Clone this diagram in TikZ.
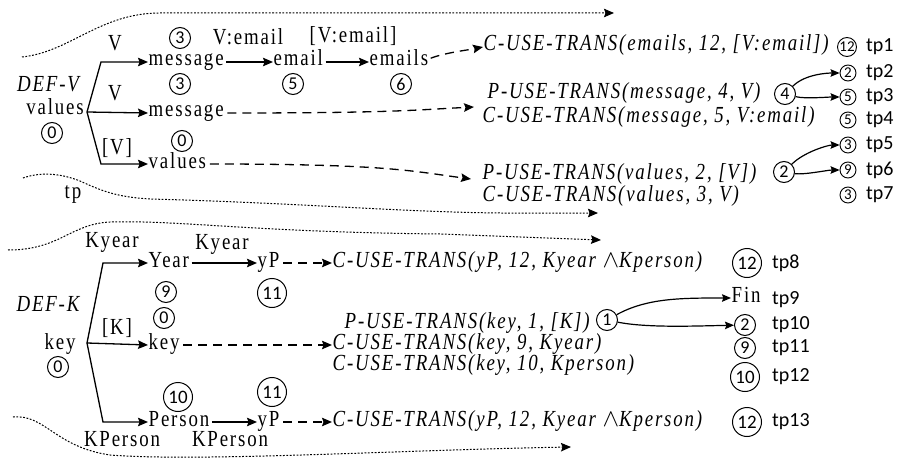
\documentclass[tikz,border=0pt]{standalone}
\usepackage{fontspec}
\setmainfont{Liberation Serif}[LetterSpace=8, FakeStretch=0.82]
\newfontfamily\calfont{Carlito}
\usetikzlibrary{arrows.meta}
\begin{document}
\begin{tikzpicture}[x=1pt,y=-1pt,
  txt/.style={inner sep=0.5pt, text height=12pt, text depth=4pt, font=\fontsize{23}{26}\selectfont},
  itx/.style={txt, font=\fontsize{23}{26}\selectfont\itshape},
  tpl/.style={inner sep=0, anchor=west, font=\calfont\fontsize{20}{22}\selectfont},
  circS/.style={circle, draw, line width=0.9pt, inner sep=0, minimum size=16pt, font=\calfont\fontsize{15}{15}\selectfont},
  circSS/.style={circS, minimum size=19pt, font=\calfont\fontsize{15}{15}\selectfont},
  circM/.style={circle, draw, line width=1pt, inner sep=0, minimum size=21pt, font=\calfont\fontsize{18}{18}\selectfont},
  circL/.style={circle, draw, line width=1pt, inner sep=0, minimum size=29pt, font=\calfont\fontsize{19}{19}\selectfont},
  mytip/.tip={Stealth[length=10pt,width=8.5pt,inset=1.5pt]},
  arr/.style={line width=1.3pt, -mytip},
  carr/.style={line width=1.2pt, -{Stealth[length=9pt,width=7.5pt,inset=1.3pt]}},
  dsh/.style={arr, dash pattern=on 9pt off 6pt},
  dotline/.style={line width=1pt, dash pattern=on 1.8pt off 1.6pt, -mytip}
]
\useasboundingbox (0,0) rectangle (914,460);

% ---------------- top section ----------------
\coordinate (da0) at (22,57);
\coordinate (da1) at (614,13);
\draw[dotline] (da0) .. controls (70,52) and (100,13) .. (160,13) -- (da1);

\node[itx] (defv) at (48,88) {DEF-V};
\node[txt] (valsA) at (55,110) {values};
\node[circM] (z0a) at (52,133) {0};
\coordinate (bv) at (87,112);
\coordinate (bvu) at (101,62);
\coordinate (bvd) at (101,164);
\node[txt,anchor=west] (msgA) at (148,62) {message};
\node[txt,anchor=west] (msgB) at (148,113) {message};
\node[txt,anchor=west] (valsB) at (148,164) {values};
\draw[arr] (bv) -- (bvu) -- (msgA.west);
\draw[arr] (bv) -- (msgB.west);
\draw[arr] (bv) -- (bvd) -- (valsB.west);
\node[txt] (lv1) at (115,47) {V};
\node[txt] (lv2) at (115,97) {V};
\node[txt] (lv3) at (117,150) {[V]};
\node[circM] (t3a) at (180,38) {3};
\node[circM] (t3b) at (180,84) {3};
\node[circM] (t0b) at (182,141) {0};

\node[txt,anchor=west] (emailA) at (273,62) {email};
\node[txt,anchor=west] (emailsA) at (369,62) {emails};
\draw[arr, shorten <=2pt] (msgA.east) -- (emailA.west);
\draw[arr, shorten <=2pt] (emailA.east) -- (emailsA.west);
\node[txt] (lve) at (248,41) {V:email};
\node[txt] (lvee) at (353,39) {[V:email]};
\node[circM] (t5) at (293,84) {5};
\node[circM] (t6) at (401,84) {6};

\node[itx,anchor=west] (cu1) at (483,47) {C-USE-TRANS(emails, 12, [V:email])};
\node[itx,anchor=west] (pu1) at (487,95) {P-USE-TRANS(message, 4, V)};
\node[itx,anchor=west] (cu2) at (482,118) {C-USE-TRANS(message, 5, V:email)};
\node[itx,anchor=west] (pu2) at (482,175) {P-USE-TRANS(values, 2, [V])};
\node[itx,anchor=west] (cu3) at (482,197) {C-USE-TRANS(values, 3, V)};

\draw[dsh, shorten <=2pt] ([yshift=3pt]emailsA.east) .. controls +(15,-6) and +(-15,3) .. (cu1.west);
\coordinate (mB) at (474,107);
\draw[dsh, shorten <=3pt] (msgB.east) .. controls +(170,0) and +(-60,3) .. (mB);
\coordinate (vB) at (471,179);
\draw[dsh, shorten <=3pt] (valsB.east) .. controls +(180,0) and +(-60,-8) .. (vB);

\coordinate (db0) at (23,178);
\coordinate (db1) at (598,213);
\draw[dotline] (db0) .. controls (40,172) and (60,173) .. (80,181) .. controls (100,190) and (115,197) .. (150,199) .. controls (300,203) and (400,212) .. (500,213) -- (db1);
\node[txt] (tplab) at (73,194) {tp};

\node[circM] (c4) at (785,94) {4};
\node[circM] (c2) at (784,172) {2};

\node[circSS] (r1) at (847,47) {12};
\node[circS] (r2) at (848,73) {2};
\node[circS] (r3) at (848,97) {5};
\node[circS] (r4) at (848,120) {5};
\node[circS] (r5) at (848,145) {3};
\node[circS] (r6) at (848,170) {9};
\node[circS] (r7) at (848,195) {3};
\node[tpl] (tp1) at (866,47) {tp1};
\node[tpl] (tp2) at (866,73) {tp2};
\node[tpl] (tp3) at (866,97) {tp3};
\node[tpl] (tp4) at (866,120) {tp4};
\node[tpl] (tp5) at (866,145) {tp5};
\node[tpl] (tp6) at (866,170) {tp6};
\node[tpl] (tp7) at (866,195) {tp7};

\draw[carr] (c4) .. controls +(20,-20) and +(-20,0) .. (r2);
\draw[carr] (c4) .. controls +(20,5) and +(-20,0) .. (r3);
\draw[carr] (c2) .. controls +(20,-20) and +(-20,0) .. (r5);
\draw[carr] (c2) .. controls +(20,3) and +(-20,0) .. (r6);

% ---------------- bottom section ----------------
\coordinate (dc0) at (8,250);
\coordinate (dc1) at (601,240);
\draw[dotline] (dc0) .. controls (60,250) and (70,224) .. (110,222) .. controls (180,220) and (250,232) .. (440,234) -- (dc1);

\coordinate (dd0) at (13,417);
\coordinate (dd1) at (571,447);
\draw[dotline] (dd0) .. controls (45,414) and (55,447) .. (110,455) .. controls (200,462) and (400,450) .. (dd1);

\node[itx] (defk) at (48,307) {DEF-K};
\node[txt] (keyA) at (60,345) {key};
\node[circM] (k0a) at (58,367) {0};
\coordinate (bk) at (87,343);
\coordinate (bku) at (103,263);
\coordinate (bkd) at (103,422);
\node[txt,anchor=west] (year) at (148,263) {Year};
\node[txt,anchor=west] (keyB) at (148,345) {key};
\node[txt,anchor=west] (person) at (148,422) {Person};
\draw[arr] (bk) -- (bku) -- (year.west);
\draw[arr] (bk) -- (keyB.west);
\draw[arr] (bk) -- (bkd) -- (person.west);
\node[txt] (lk1) at (112,243) {Kyear};
\node[txt] (lk2) at (117,330) {[K]};
\node[txt] (lk3) at (122,442) {KPerson};
\node[circM] (k9) at (166,292) {9};
\node[circM] (k0b) at (164,318) {0};
\node[circL] (k10) at (178,397) {10};

\node[txt,anchor=west] (ypA) at (257,263) {yP};
\node[txt,anchor=west] (ypB) at (257,422) {yP};
\draw[arr, shorten <=2pt] (year.east) -- (ypA.west);
\draw[arr, shorten <=2pt] (person.east) -- (ypB.west);
\node[txt] (lk4) at (222,245) {Kyear};
\node[txt] (lk5) at (230,442) {KPerson};
\node[circL] (k11a) at (272,293) {11};
\node[circL] (k11b) at (272,392) {11};

\node[itx,anchor=west] (cy1) at (332,263) {C-USE-TRANS(yP, 12, Kyear $\wedge$Kperson)};
\node[itx,anchor=west] (pk1) at (344,324) {P-USE-TRANS(key, 1, [K])};
\node[itx,anchor=west] (ck1) at (332,345) {C-USE-TRANS(key, 9, Kyear)};
\node[itx,anchor=west] (ck2) at (332,366) {C-USE-TRANS(key, 10, Kperson)};
\node[itx,anchor=west] (cy2) at (332,422) {C-USE-TRANS(yP, 12, Kyear $\wedge$Kperson)};

\draw[dsh, shorten <=3pt] (ypA.east) -- (cy1.west);
\draw[dsh, shorten <=3pt] (keyB.east) -- (ck1.west);
\draw[dsh, shorten <=3pt] (ypB.east) -- (cy2.west);

\node[circM] (c1) at (607,320) {1};
\node[txt,anchor=west] (fin) at (731,298) {Fin};
\node[circL] (s12a) at (747,263) {12};
\node[circM] (s2) at (745,325) {2};
\node[circM] (s9) at (745,348) {9};
\node[circL] (s10) at (745,377) {10};
\node[circL] (s12b) at (747,422) {12};
\node[tpl] (tp8) at (772,263) {tp8};
\node[tpl] (tp9) at (772,300) {tp9};
\node[tpl] (tp10) at (772,325) {tp10};
\node[tpl] (tp11) at (772,348) {tp11};
\node[tpl] (tp12) at (772,377) {tp12};
\node[tpl] (tp13) at (772,422) {tp13};

\draw[carr] (c1) .. controls +(40,-22) and +(-50,0) .. (fin.west);
\draw[carr] (c1) .. controls +(40,8) and +(-50,1) .. (s2);
\end{tikzpicture}
\end{document}
